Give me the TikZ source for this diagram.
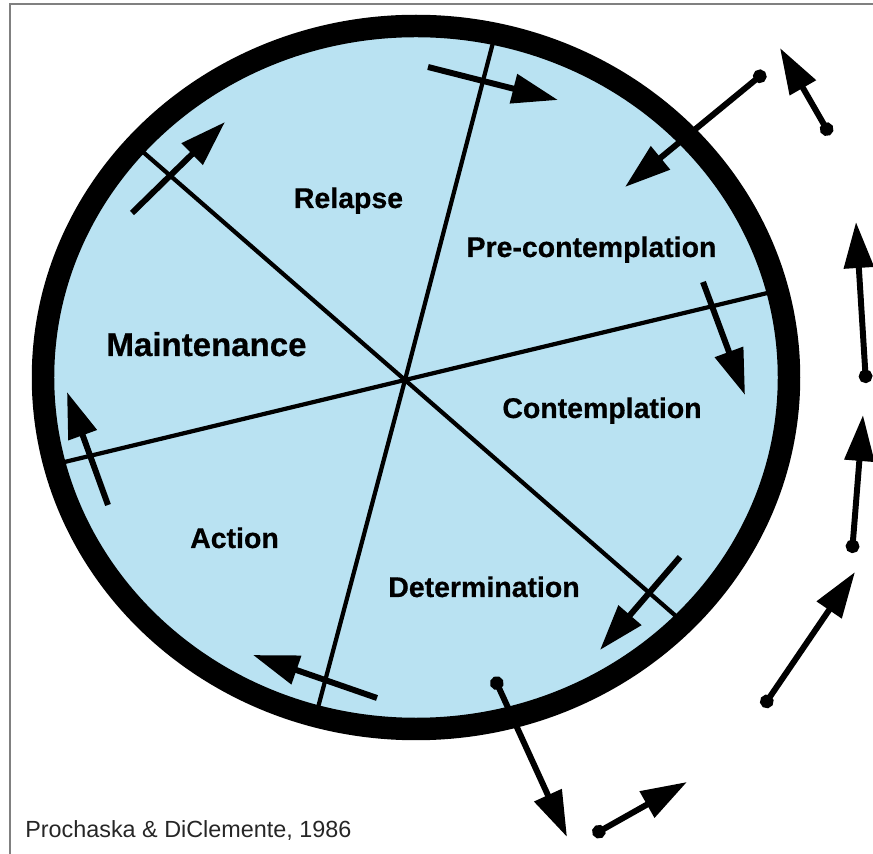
\documentclass[tikz,border=0pt]{standalone}
\usepackage{fontspec}
\setmainfont{Liberation Sans}
\newfontfamily\stagefont{Liberation Sans Bold}[FakeBold=0.6]
\usetikzlibrary{arrows.meta}

\definecolor{stagefill}{RGB}{185,226,242}

\begin{document}
\begin{tikzpicture}[x=0.02cm, y=-0.02cm,
    stage/.style={font=\fontsize{16.2}{19}\selectfont\stagefont\bfseries, anchor=base, inner sep=0pt},
    spoke/.style={line width=2.4pt},
    move/.style={line width=3.4pt, -{Triangle[length=0.92cm, width=0.58cm]}},
    exit/.style={line width=3.4pt, {Circle[length=0.27cm]}-{Triangle[length=0.92cm, width=0.58cm]}}]

    \useasboundingbox (0,0) rectangle (873,854);
    \draw[gray, line width=1.1pt] (10,854) |- (873,4);

    % wheel
    \fill[stagefill] (416,377.5) ellipse [x radius=373, y radius=351.5];
    \coordinate (hub) at (405,380);
    \foreach \x/\y/\u/\v in {135/145/685/624, 495.5/33/315.5/717, 777/290.7/55/464.3}
        \draw[spoke] (\x,\y) -- (hub) -- (\u,\v);
    \draw[line width=12.8pt] (416,377.5) ellipse [x radius=373, y radius=351.5];

    \node[stage] (relapse) at (348.5,208) {Relapse};
    \node[stage] (precont) at (591.5,257) {Pre-contemplation};
    \node[stage] (cont) at (602,418) {Contemplation};
    \node[stage] (determ) at (484,597) {Determination};
    \node[stage] (action) at (234.5,548) {Action};
    \node[stage, font=\fontsize{18.8}{22}\selectfont\stagefont\bfseries] (maint) at (206.5,356) {Maintenance};

    % moves round the wheel
    \foreach \sx/\sy/\tx/\ty [count=\n] in {428/67/558/100, 703/282/745/395, 680/557/600/650,
                                          377/698/253/655, 108/505/67/392, 132/213/225/122} {
        \coordinate (m\n s) at (\sx,\sy);
        \coordinate (m\n t) at (\tx,\ty);
        \draw[move] (m\n s) -- (m\n t);
    }

    % ways in and out
    \foreach \sx/\sy/\tx/\ty [count=\n] in {765/72/625/187, 830/135/780/48, 866/383/856/222,
                                          852/553/863/415, 763/707/855/572, 494/677/567/837, 593/835/687/782} {
        \coordinate (e\n s) at (\sx,\sy);
        \coordinate (e\n t) at (\tx,\ty);
        \draw[exit] (e\n s) -- (e\n t);
    }

    \node[font=\fontsize{13.3}{16}\selectfont, text=black!85, anchor=base west, inner sep=0pt]
        (source) at (25,838) {Prochaska \& DiClemente, 1986};

\end{tikzpicture}
\end{document}
